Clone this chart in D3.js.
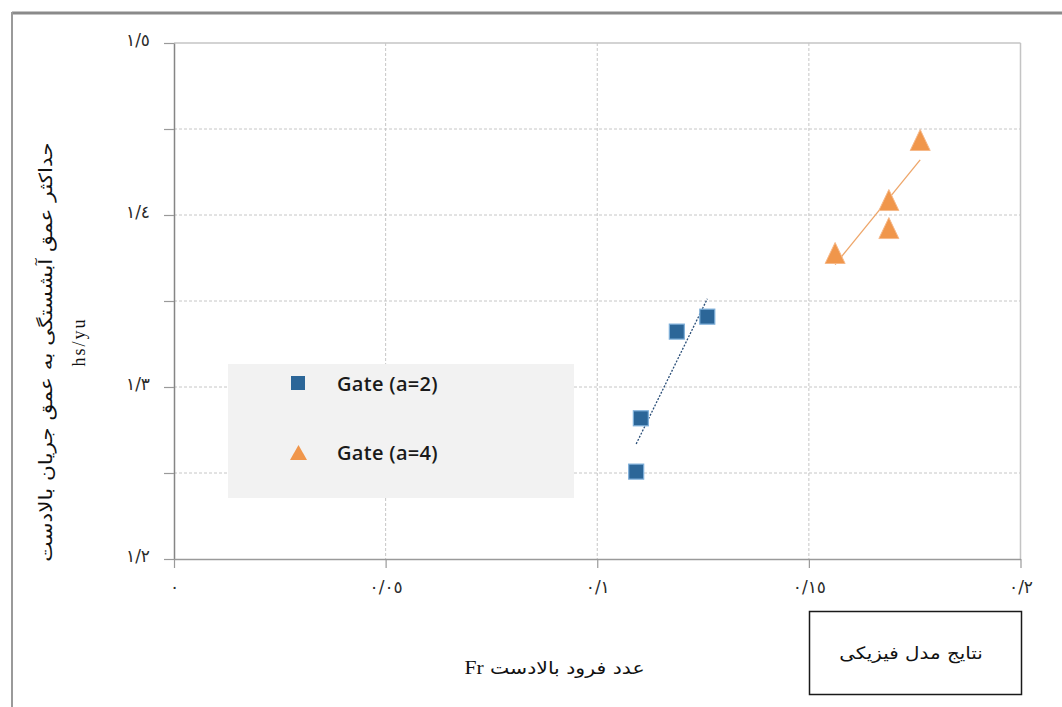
<!DOCTYPE html>
<html>
<head>
<meta charset="utf-8">
<script src="https://cdn.jsdelivr.net/npm/d3@7"></script>
<style>
  html, body { margin: 0; padding: 0; background: #ffffff; }
  svg { display: block; }
</style>
</head>
<body>
<svg id="chart" width="1062" height="707"></svg>
<script>
// Froude number ticks (x) and relative scour depth ticks (y)
const xTicks = [0, 0.05, 0.1, 0.15, 0.2];
const xTickLabels = ["٠", "٠/٠٥", "٠/١", "٠/١٥", "٠/٢"];
const yTicks = [1.2, 1.25, 1.3, 1.35, 1.4, 1.45, 1.5];
const yTickLabels = ["١/٢", "", "١/٣", "", "١/٤", "", "١/٥"];

// Series names
const seriesNames = ["Gate (a=2)", "Gate (a=4)"];

// Gate opening a=2
const gate2Fr = [0.1092, 0.1103, 0.1188, 0.1260];
const gate2Hs = [1.2508, 1.2818, 1.3322, 1.3409];

// Gate opening a=4
const gate4Fr = [0.1562, 0.1689, 0.1689, 0.1763];
const gate4Hs = [1.3779, 1.4087, 1.3924, 1.4436];

const xTitle = "عدد فرود بالادست";
const xTitleSymbol = "Fr";
const yTitle = "حداکثر عمق آبشستگی به عمق جریان بالادست";
const yTitleSub = "hs/yu";
const noteText = "نتایج مدل فیزیکی";

const svg = d3.select("#chart");
const persianFont = "'DejaVu Sans', 'Noto Sans', sans-serif";

const x = d3.scaleLinear().domain([0, 0.2]).range([174, 1020.5]);
const y = d3.scaleLinear().domain([1.2, 1.5]).range([559, 43]);

// outer frame
svg.append("line").attr("x1", 12).attr("x2", 1062).attr("y1", 13).attr("y2", 13)
  .attr("stroke", "#8a8a8a").attr("stroke-width", 3);
svg.append("line").attr("x1", 12).attr("x2", 12).attr("y1", 12).attr("y2", 707)
  .attr("stroke", "#9a9a9a").attr("stroke-width", 2);

// plot frame (top and right)
svg.append("line").attr("x1", x(0)).attr("x2", x(0.2)).attr("y1", y(1.5)).attr("y2", y(1.5))
  .attr("stroke", "#c4c4c4").attr("stroke-width", 1.5);
svg.append("line").attr("x1", x(0.2)).attr("x2", x(0.2)).attr("y1", y(1.5)).attr("y2", y(1.2))
  .attr("stroke", "#c4c4c4").attr("stroke-width", 1.5);

// dashed gridlines
const grid = svg.append("g").attr("stroke", "#c6c6c6").attr("stroke-width", 1)
  .attr("stroke-dasharray", "3,2");
grid.selectAll("line.h").data(yTicks.filter(v => v > 1.2 && v < 1.5)).join("line")
  .attr("class", "h")
  .attr("x1", x(0)).attr("x2", x(0.2))
  .attr("y1", d => y(d)).attr("y2", d => y(d));
grid.selectAll("line.v").data(xTicks.filter(v => v > 0 && v < 0.2)).join("line")
  .attr("class", "v")
  .attr("x1", d => x(d)).attr("x2", d => x(d))
  .attr("y1", y(1.5)).attr("y2", y(1.2));

// axes
const yAxis = d3.axisLeft(y).tickValues(yTicks)
  .tickFormat((d, i) => yTickLabels[i]).tickSize(10).tickPadding(14).tickSizeOuter(0);
const gy = svg.append("g").attr("transform", `translate(${x(0)},0)`).call(yAxis);
gy.select(".domain").attr("stroke", "#858585").attr("stroke-width", 1.5);
gy.selectAll(".tick line").attr("stroke", "#9a9a9a").attr("stroke-width", 1.2);
gy.selectAll(".tick text").attr("font-family", persianFont).attr("font-size", 17)
  .attr("letter-spacing", 1).attr("fill", "#2a2a2a").attr("dy", "0.15em");

const xAxis = d3.axisBottom(x).tickValues(xTicks)
  .tickFormat((d, i) => xTickLabels[i]).tickSize(9).tickPadding(13).tickSizeOuter(0);
const gx = svg.append("g").attr("transform", `translate(0,${y(1.2)})`).call(xAxis);
gx.select(".domain").attr("stroke", "#9a9a9a").attr("stroke-width", 1.5);
gx.selectAll(".tick line").attr("stroke", "#9a9a9a").attr("stroke-width", 1.2);
gx.selectAll(".tick text").attr("font-family", persianFont).attr("font-size", 17)
  .attr("letter-spacing", 2).attr("fill", "#2a2a2a");

// least squares trend line over the series range
function trend(xs, ys) {
  const mx = d3.mean(xs), my = d3.mean(ys);
  const sxy = d3.sum(xs, (v, i) => (v - mx) * (ys[i] - my));
  const sxx = d3.sum(xs, v => (v - mx) * (v - mx));
  const b = sxy / sxx, a = my - b * mx;
  const [x0, x1] = d3.extent(xs);
  return [[x0, a + b * x0], [x1, a + b * x1]];
}
const line = d3.line().x(d => x(d[0])).y(d => y(d[1]));

svg.append("path").datum(trend(gate2Fr, gate2Hs)).attr("d", line)
  .attr("fill", "none").attr("stroke", "#2a4e78").attr("stroke-width", 1.3)
  .attr("stroke-dasharray", "2,1.5");
svg.append("path").datum(trend(gate4Fr, gate4Hs)).attr("d", line)
  .attr("fill", "none").attr("stroke", "#eea66a").attr("stroke-width", 1.3);

// markers
const blue = "#2c6698", blueEdge = "#7fb0da";
const orange = "#f0964b";
const sq = 15;
svg.append("g").selectAll("rect").data(gate2Fr.map((v, i) => [v, gate2Hs[i]])).join("rect")
  .attr("x", d => x(d[0]) - sq / 2).attr("y", d => y(d[1]) - sq / 2)
  .attr("width", sq).attr("height", sq)
  .attr("fill", blue).attr("stroke", blueEdge).attr("stroke-width", 1.2);

function tri(cx, cy, w, h) {
  return `M${cx},${cy - h / 2}L${cx + w / 2},${cy + h / 2}L${cx - w / 2},${cy + h / 2}Z`;
}
svg.append("g").selectAll("path").data(gate4Fr.map((v, i) => [v, gate4Hs[i]])).join("path")
  .attr("d", d => tri(x(d[0]), y(d[1]), 20, 21))
  .attr("fill", orange).attr("stroke", "#f6b98a").attr("stroke-width", 1);

// legend
const lg = svg.append("g");
lg.append("rect").attr("x", 228).attr("y", 364).attr("width", 346).attr("height", 134)
  .attr("fill", "#f2f2f2");
lg.append("rect").attr("x", 298 - 7).attr("y", 383 - 7).attr("width", 14).attr("height", 14)
  .attr("fill", blue);
lg.append("path").attr("d", tri(298.5, 452.5, 17, 15)).attr("fill", orange);
lg.selectAll("text").data(seriesNames).join("text")
  .attr("x", 337).attr("y", (d, i) => i === 0 ? 383 : 452)
  .attr("dominant-baseline", "central")
  .attr("font-family", "'Open Sans', sans-serif").attr("font-weight", 600)
  .attr("font-size", 20).attr("letter-spacing", 0.3).attr("fill", "#1a1a1a")
  .text(d => d);

// axis titles (the naskh lettering runs wider than DejaVu, so it is stretched sideways)
const xt = svg.append("text").attr("transform", "translate(554.5,668) scale(1.2,1)")
  .attr("direction", "rtl").attr("text-anchor", "middle").attr("dominant-baseline", "central")
  .attr("font-family", persianFont).attr("font-size", 17)
  .attr("fill", "#111");
xt.append("tspan").text(xTitle + " ");
xt.append("tspan").attr("font-family", "'Liberation Serif', serif").attr("font-size", 18)
  .text(xTitleSymbol);

svg.append("text").attr("transform", "translate(46,352) rotate(-90) scale(1.2,1)")
  .attr("text-anchor", "middle").attr("dominant-baseline", "central")
  .attr("direction", "rtl")
  .attr("font-family", persianFont).attr("font-size", 18)
  .attr("fill", "#111")
  .text(yTitle);
svg.append("text").attr("transform", "translate(79,342) rotate(-90)")
  .attr("text-anchor", "middle").attr("dominant-baseline", "central")
  .attr("font-family", "'Liberation Serif', serif").attr("font-size", 18)
  .attr("letter-spacing", 2).attr("fill", "#111")
  .text(yTitleSub);

// note box
svg.append("rect").attr("x", 809.5).attr("y", 611.5).attr("width", 212).attr("height", 83)
  .attr("fill", "#fff").attr("stroke", "#1a1a1a").attr("stroke-width", 1.5);
svg.append("text").attr("transform", "translate(911,653) scale(1.17,1)")
  .attr("direction", "rtl").attr("text-anchor", "middle").attr("dominant-baseline", "central")
  .attr("font-family", persianFont).attr("font-size", 17)
  .attr("fill", "#111")
  .text(noteText);
</script>
</body>
</html>
